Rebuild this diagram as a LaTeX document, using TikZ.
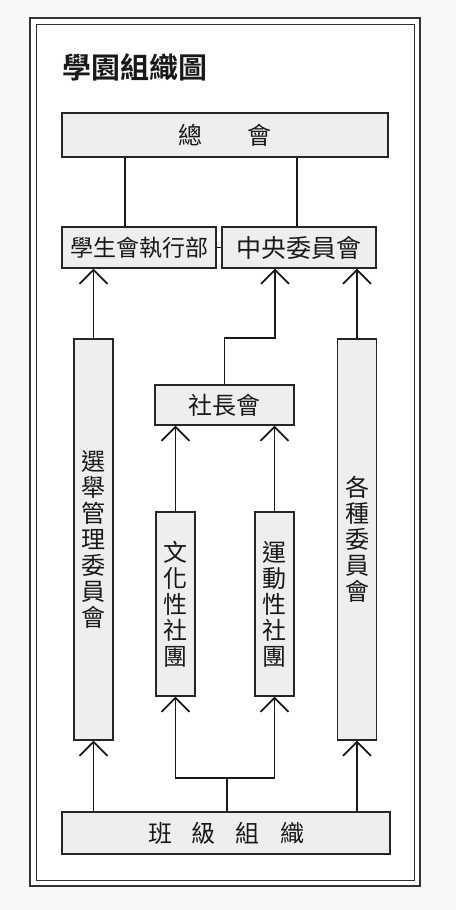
\documentclass[tikz,border=0pt]{standalone}
\usepackage{fontspec}
\newfontfamily\cjk{Noto Sans CJK TC}[BoldFont={Noto Sans CJK TC Bold}]
\usetikzlibrary{arrows.meta}

\begin{document}
\begin{tikzpicture}[x=1pt,y=-1pt,font=\cjk\fontsize{24}{26}\selectfont,
  box/.style={draw=black!85, fill=gray!13, inner sep=0pt, line width=1.1pt, text=black!90},
  hbox/.style={box, minimum height=41pt},
  vbox/.style={box, minimum width=39pt, align=center},
  link/.style={line width=1.8pt, black!90},
  up/.style={link, -{Straight Barb[length=14pt,width=28pt]}}]

\useasboundingbox (0,0) rectangle (456,910);
\fill[gray!6] (0,0) rectangle (456,910);

% frame
\draw[line width=2.4pt, black!80, fill=white] (30,18) rectangle (420,886);
\draw[line width=1pt, black!80] (36,24) rectangle (414,880);

\node[font=\cjk\bfseries\fontsize{29}{29}\selectfont, text=black!90] (title) at (135,67) {學園組織圖};

\node[hbox, minimum width=326pt, minimum height=44pt] (zonghui) at (225,135) {總\hspace{46pt}會};
\node[hbox, minimum width=154pt, font=\cjk\fontsize{23}{26}\selectfont] (xsh) at (139,247.5) {學生會執行部};
\node[hbox, minimum width=154pt, font=\cjk\fontsize{25}{26}\selectfont] (zyw) at (299,247.5) {中央委員會};

\node[vbox, minimum height=401pt] (xj) at (93.5,539.5) {選\\舉\\管\\理\\委\\員\\會};
\node[vbox, minimum height=401pt] (gz) at (357,539.5) {各\\種\\委\\員\\會};

\node[hbox, minimum width=139pt, minimum height=40pt] (szh) at (224.5,405) {社長會};
\node[vbox, minimum height=184pt] (wh) at (175.5,604) {文\\化\\性\\社\\團};
\node[vbox, minimum height=184pt] (yd) at (274.5,604) {運\\動\\性\\社\\團};

\node[hbox, minimum width=328pt, minimum height=42pt] (bj) at (226,833) {班\hspace{20pt}級\hspace{20pt}組\hspace{20pt}織};

\coordinate (l1) at (125,0);
\coordinate (l2) at (297,0);
\coordinate (bend) at (275,338);
\coordinate (fork) at (227,778);

\draw[link] (zonghui.south -| l1) -- (xsh.north -| l1);
\draw[link] (zonghui.south -| l2) -- (zyw.north -| l2);
\draw[link] (xsh.east) -- (zyw.west);

\draw[up] (xj.north) -- (xsh.south -| xj.north);
\draw[up] (gz.north) -- (zyw.south -| gz.north);
\draw[up] (szh.north) |- (bend) -- (zyw.south -| bend);

\draw[up] (wh.north) -- (szh.south -| wh.north);
\draw[up] (yd.north) -- (szh.south -| yd.north);

\draw[up] (bj.north -| xj.south) -- (xj.south);
\draw[up] (bj.north -| gz.south) -- (gz.south);
\draw[link] (bj.north -| fork) -- (fork);
\draw[up] (fork) -| (wh.south);
\draw[up] (fork) -| (yd.south);

\end{tikzpicture}
\end{document}
